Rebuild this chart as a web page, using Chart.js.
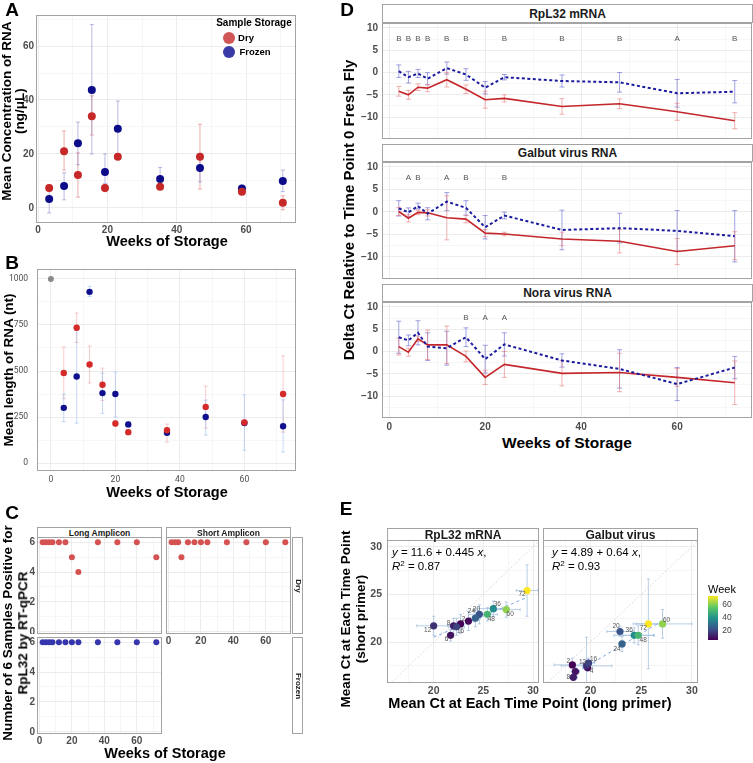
<!DOCTYPE html>
<html>
<head>
<meta charset="utf-8">
<script src="https://cdn.jsdelivr.net/npm/chart.js@4"></script>
<style>
body { margin: 0; background: #fff; }
#fig { position: relative; width: 753px; height: 763px; overflow: hidden; font-family: "Liberation Sans", Arial, sans-serif; }
.t { position: absolute; white-space: nowrap; font-weight: bold; color: #000; line-height: 1; }
.strip { position: absolute; box-sizing: border-box; border: 1px solid #a3a3a3; background: #fff; }
.dot { position: absolute; border-radius: 50%; }
</style>
</head>
<body>
<div id="fig"></div>
<script>
// ---- A: RNA concentration ----
const aWeeks = [3.2, 7.5, 11.5, 15.5, 19.3, 23, 35.2, 46.7, 58.8, 70.6];
const aDry = [7.4, 21, 12.2, 34, 7.4, 19, 7.8, 19, 6, 1.9];
const aDryLo = [6.3, 14, 4, 27, 6, 18, 6.8, 7, 5.3, -0.7];
const aDryHi = [8.5, 28.5, 20.4, 41.5, 8.6, 20, 8.8, 31, 6.8, 4.5];
const aFrozen = [3.3, 8.1, 24, 43.7, 13.3, 29.3, 10.7, 14.8, 7.2, 10];
const aFrozenLo = [-1.9, 3, 16, 20, 9, 19.6, 7, 9.6, 6, 6];
const aFrozenHi = [7.5, 13, 31.8, 68, 20, 39.6, 15, 20, 8.4, 14];

// ---- B: RNA length ----
const bWeeks = [4, 8, 12, 16, 20, 24, 36, 48, 60, 72];
const bFresh = [{ x: 0, y: 1000 }];
const bDry = [489, 735, 535, 425, 215, 168, 178, 305, 220, 375];
const bDryLo = [350, 655, 435, 340, 200, 155, 114, 190, 205, 168];
const bDryHi = [630, 815, 636, 516, 230, 180, 212, 418, 235, 582];
const bFrozen = [300, 470, 930, 380, 375, 210, 165, 250, 218, 200];
const bFrozenLo = [225, 217, 905, 270, 250, 195, 150, 152, 70, 60];
const bFrozenHi = [375, 720, 960, 489, 495, 225, 180, 342, 370, 343];

// ---- C: samples positive ----
const cWeeks = [2, 4, 6, 8, 12, 16, 20, 24, 36, 48, 60, 72];
const cLongDry = [6, 6, 6, 6, 6, 6, 5, 4, 6, 6, 6, 5];
const cLongFrozen = [6, 6, 6, 6, 6, 6, 6, 6, 6, 6, 6, 6];
const cShortDry = [6, 6, 6, 5, 6, 6, 6, 6, 6, 6, 6, 6];

// ---- D: delta Ct ----
const dWeeks = [2, 4, 6, 8, 12, 16, 20, 24, 36, 48, 60, 72];
const rplDry = [-4.2, -5.0, -3.3, -3.5, -1.6, -3.75, -6.1, -5.8, -7.6, -7.0, -8.8, -10.8];
const rplDryErr = [1.1, 1.0, 0.75, 0.8, 1.65, 0.95, 1.9, 0.8, 1.75, 1.1, 1.9, 1.8];
const rplFrozen = [0.3, -1.05, -0.2, -1.4, 1.0, -0.45, -3.4, -1.05, -1.9, -2.2, -4.65, -4.3];
const rplFrozenErr = [1.4, 1.3, 0.9, 1.35, 1.35, 1.3, 1.4, 0.6, 1.35, 2.2, 3.1, 2.5];
const galDry = [0.1, -1.4, -0.1, -0.2, -1.3, -1.6, -4.7, -4.9, -6.0, -6.5, -8.8, -7.5];
const galDryErr = [0.9, 0.8, 0.5, 0.7, 4.9, 0.8, 0.8, 0.4, 1.5, 2.6, 2.9, 3.1];
const galFrozen = [0.8, -0.1, 1.3, -0.4, 2.3, 0.9, -3.4, -0.8, -4.0, -3.6, -4.2, -5.4];
const galFrozenErr = [1.7, 1.0, 0.65, 1.35, 2.0, 1.6, 2.6, 0.75, 4.4, 3.3, 4.5, 5.7];
const noraDry = [1.1, -0.15, 2.85, 1.5, 1.5, -1.1, -5.8, -2.9, -4.9, -4.7, -5.8, -7.0];
const noraDryErr = [1.9, 0.9, 0.6, 3.3, 4.2, 1.2, 1.6, 2.9, 2.8, 4.3, 2.0, 4.9];
const noraFrozen = [3.2, 2.5, 4.2, 1.1, 0.75, 3.2, -1.7, 1.6, -2.0, -3.9, -7.3, -3.6];
const noraFrozenErr = [3.6, 1.2, 2.7, 3.1, 3.8, 2.1, 3.1, 2.6, 1.5, 4.3, 3.7, 2.5];
const rplLetterWeeks = [2, 4, 6, 8, 12, 16, 24, 36, 48, 60, 72];
const rplLetters = ['B', 'B', 'B', 'B', 'B', 'B', 'B', 'B', 'B', 'A', 'B'];
const galLetterWeeks = [4, 6, 12, 16, 24];
const galLetters = ['A', 'B', 'A', 'B', 'B'];
const noraLetterWeeks = [16, 20, 24];
const noraLetters = ['B', 'A', 'A'];
const LETTER_Y = 7.6;

// ---- E: long vs short primer ----
const eWeeks = [2, 4, 6, 8, 12, 16, 20, 24, 36, 48, 60, 72];
const eRplLong = [22.7, 23.5, 21.7, 22.0, 20.0, 22.3, 24.6, 24.2, 26.0, 25.4, 27.3, 29.4];
const eRplShort = [21.9, 22.2, 20.7, 21.7, 21.7, 21.6, 22.9, 22.5, 23.5, 22.9, 23.4, 25.4];
const eRplXErr = [0.7, 0.6, 0.3, 0.6, 1.7, 0.8, 1.1, 0.5, 1.6, 1.0, 1.4, 1.1];
const eRplYErr = [1.0, 1.0, 0.6, 0.8, 1.0, 0.9, 1.0, 0.9, 0.8, 0.7, 0.8, 2.7];
const eGalLong = [18.2, 19.7, 18.5, 18.3, 19.6, 19.8, 22.9, 23.1, 24.3, 24.7, 27.1, 25.7];
const eGalShort = [17.6, 17.3, 16.9, 16.3, 17.5, 17.8, 21.1, 19.8, 20.7, 20.7, 21.9, 21.9];
const eGalXErr = [1.8, 0.5, 0.4, 0.4, 2.5, 0.6, 1.3, 0.3, 2.0, 1.5, 2.9, 1.2];
const eGalYErr = [0.7, 0.4, 0.4, 0.3, 3.0, 0.5, 0.5, 0.8, 0.8, 1.0, 1.5, 4.7];
const eRplFit = [11.6, 0.445];
const eGalFit = [4.89, 0.64];

// label nudges for week numbers in E (pixels), null = label hidden
const rplNudge = [[3, -5], null, [-4, 4], [-5, -3], [-6, 4], [4, 4], [-3, -5], [-4, -7], [4, -4], [4, 5], [4, 5], [-5, 4]];
const galNudge = [[-4, -4], [4, 3], null, [-5, 0], [-4, -4], [5, -4], [-4, -5], [-5, 5], [-5, -5], [5, 5], [4, -4], [-5, 4]];

const FONT = '"Liberation Sans", Arial, sans-serif';
const GRID = '#ececec', GRID_MINOR = '#f6f6f6', BORDER = '#a3a3a3', TICK = '#4d4d4d';
const fig = document.getElementById('fig');

// error bars drawn from dataset.err through the chart scales
const errorBars = {
    id: 'errorBars',
    beforeDatasetsDraw(chart) {
        const { ctx, chartArea: a, scales: { x, y } } = chart;
        ctx.save();
        ctx.beginPath();
        ctx.rect(a.left, a.top, a.right - a.left, a.bottom - a.top);
        ctx.clip();
        chart.data.datasets.forEach(ds => {
            const e = ds.err;
            if (!e) return;
            ctx.strokeStyle = e.color;
            ctx.lineWidth = e.width || 1;
            const cap = e.cap || 2;
            const seg = (x1, y1, x2, y2) => { ctx.beginPath(); ctx.moveTo(x1, y1); ctx.lineTo(x2, y2); ctx.stroke(); };
            ds.data.forEach((p, i) => {
                const px = x.getPixelForValue(p.x), py = y.getPixelForValue(p.y);
                let lo = null, hi = null;
                if (e.yLo) { lo = e.yLo[i]; hi = e.yHi[i]; }
                if (e.y) { lo = p.y - e.y[i]; hi = p.y + e.y[i]; }
                if (lo !== null) {
                    const t = y.getPixelForValue(hi), b = y.getPixelForValue(lo);
                    seg(px, t, px, b);
                    seg(px - cap, t, px + cap, t);
                    seg(px - cap, b, px + cap, b);
                }
                if (e.x) {
                    const l = x.getPixelForValue(p.x - e.x[i]), r = x.getPixelForValue(p.x + e.x[i]);
                    seg(l, py, r, py);
                    seg(l, py - cap, l, py + cap);
                    seg(r, py - cap, r, py + cap);
                }
            });
        });
        ctx.restore();
    }
};

const panelBox = {
    id: 'panelBox',
    afterDatasetsDraw(chart) {
        const { ctx, chartArea: a } = chart;
        ctx.save();
        ctx.strokeStyle = BORDER;
        ctx.lineWidth = 1;
        ctx.strokeRect(a.left + 0.5, a.top + 0.5, a.right - a.left - 1, a.bottom - a.top - 1);
        ctx.restore();
    }
};

const textMarks = {
    id: 'textMarks',
    afterDatasetsDraw(chart, args, opts) {
        if (!opts.items) return;
        const { ctx, scales: { x, y } } = chart;
        ctx.save();
        ctx.font = opts.css;
        ctx.fillStyle = opts.color;
        ctx.textAlign = 'center';
        ctx.textBaseline = 'middle';
        opts.items.forEach(it => {
            ctx.fillText(it.text, x.getPixelForValue(it.x) + (it.dx || 0), y.getPixelForValue(it.y) + (it.dy || 0));
        });
        ctx.restore();
    }
};

Chart.register(errorBars, panelBox, textMarks);

function fmt(v) {
    return v < 0 ? '\u2212' + Math.abs(v) : String(v);
}

function axis(o) {
    const all = o.majors.concat(o.minors || []).sort((a, b) => a - b);
    return {
        type: 'linear',
        min: o.min,
        max: o.max,
        afterBuildTicks: s => { s.ticks = all.map(v => ({ value: v })); },
        afterFit: s => {
            if (s.isHorizontal()) s.height = o.size; else s.width = o.size;
            // no label overhang, so the plot area stays where it is asked to be
            s.paddingTop = s.paddingBottom = s.paddingLeft = s.paddingRight = 0;
        },
        ticks: {
            display: o.show !== false,
            autoSkip: false,
            maxRotation: 0,
            padding: o.pad === undefined ? 2 : o.pad,
            color: TICK,
            font: o.font || { family: FONT, size: 10, weight: 'bold' },
            callback: v => o.majors.includes(v) ? fmt(v) : ''
        },
        grid: {
            color: c => (c.tick && o.majors.includes(c.tick.value)) ? GRID : GRID_MINOR,
            drawTicks: false,
            lineWidth: 1
        },
        border: { display: false }
    };
}

function makeChart(plot, pad, scales, datasets, plugins) {
    const cv = document.createElement('canvas');
    const w = plot.r - plot.l + pad.l + pad.r;
    const h = plot.b - plot.t + pad.t + pad.b;
    cv.width = w;
    cv.height = h;
    cv.style.cssText = `position:absolute;left:${plot.l - pad.l}px;top:${plot.t - pad.t}px;width:${w}px;height:${h}px`;
    fig.appendChild(cv);
    return new Chart(cv, {
        type: 'scatter',
        data: { datasets },
        options: {
            responsive: false,
            animation: false,
            devicePixelRatio: 1,
            layout: { padding: { left: 0, top: pad.t, right: pad.r, bottom: 0 }, autoPadding: false },
            scales,
            plugins: Object.assign({ legend: { display: false }, tooltip: { enabled: false } }, plugins || {})
        }
    });
}

function txt(html, cx, cy, size, o) {
    o = o || {};
    const d = document.createElement('div');
    d.className = 't';
    d.innerHTML = html;
    d.style.left = cx + 'px';
    d.style.top = cy + 'px';
    d.style.fontSize = size + 'px';
    if (o.weight) d.style.fontWeight = o.weight;
    if (o.color) d.style.color = o.color;
    d.style.transform = `translate(-50%,-50%) rotate(${o.rot || 0}deg)`;
    fig.appendChild(d);
    return d;
}

function strip(l, t, w, h, label, size, rot) {
    const s = document.createElement('div');
    s.className = 'strip';
    s.style.cssText = `left:${l}px;top:${t}px;width:${w}px;height:${h}px`;
    fig.appendChild(s);
    txt(label, l + w / 2, t + h / 2, size, { rot: rot || 0, color: '#1a1a1a' });
}

const pts = (xs, ys) => xs.map((x, i) => ({ x, y: ys[i] }));

// ================= Panel A =================
makeChart({ l: 36, t: 15, r: 296, b: 223 }, { l: 36, t: 4, r: 2, b: 14 }, {
    x: axis({ min: -0.6, max: 74.4, majors: [0, 20, 40, 60], minors: [10, 30, 50, 70], size: 14, pad: 1 }),
    y: axis({ min: -5.6, max: 71.5, majors: [0, 20, 40, 60], minors: [10, 30, 50, 70], size: 36, pad: 2 })
}, [
    { data: pts(aWeeks, aDry), backgroundColor: '#c62828', pointRadius: 4, borderWidth: 0,
      err: { yLo: aDryLo, yHi: aDryHi, color: 'rgba(226,130,130,0.65)', cap: 2 } },
    { data: pts(aWeeks, aFrozen), backgroundColor: '#0c0c8a', pointRadius: 4, borderWidth: 0,
      err: { yLo: aFrozenLo, yHi: aFrozenHi, color: 'rgba(140,140,210,0.6)', cap: 2 } }
]);
txt('A', 12, 9, 19);
txt('Mean Concentration of RNA', 7, 111, 13.5, { rot: -90 });
txt('(ng/\u03bcL)', 20, 111, 13.5, { rot: -90 });
txt('Weeks of Storage', 167, 241, 14.5);
// legend
txt('Sample Storage', 254, 23, 10);
const lg1 = document.createElement('div');
lg1.className = 'dot';
lg1.style.cssText = 'left:223px;top:32px;width:12px;height:12px;background:#d05656';
fig.appendChild(lg1);
const lg2 = document.createElement('div');
lg2.className = 'dot';
lg2.style.cssText = 'left:223px;top:46px;width:12px;height:12px;background:#3a3aa6';
fig.appendChild(lg2);
txt('Dry', 246, 38, 9.5);
txt('Frozen', 255, 52, 9.5);

// ================= Panel B =================
const condFont = { family: 'Roboto', size: 8.5, weight: 'normal' };
makeChart({ l: 37, t: 269, r: 296, b: 471 }, { l: 37, t: 4, r: 2, b: 16 }, {
    x: axis({ min: -4.3, max: 76, majors: [0, 20, 40, 60], minors: [10, 30, 50, 70], size: 16, pad: 4, font: condFont }),
    y: axis({ min: -43, max: 1054, majors: [0, 250, 500, 750, 1000], minors: [125, 375, 625, 875], size: 37, pad: 9, font: condFont })
}, [
    { data: bFresh, backgroundColor: '#8a8a8a', pointRadius: 3, borderWidth: 0 },
    { data: pts(bWeeks, bDry), backgroundColor: '#d42a2a', pointRadius: 3.2, borderWidth: 0,
      err: { yLo: bDryLo, yHi: bDryHi, color: 'rgba(240,160,160,0.55)', cap: 2 } },
    { data: pts(bWeeks, bFrozen), backgroundColor: '#10108f', pointRadius: 3.2, borderWidth: 0,
      err: { yLo: bFrozenLo, yHi: bFrozenHi, color: 'rgba(150,185,240,0.55)', cap: 2 } }
]);
txt('B', 12, 262, 19);
txt('Mean length of RNA (nt)', 9, 370, 13.5, { rot: -90 });
txt('Weeks of Storage', 167, 492, 14.5);

// ================= Panel C =================
const cFont = { family: FONT, size: 10, weight: 'bold' };
const cx = (show) => axis({ min: -1.5, max: 75.5, majors: [0, 20, 40, 60], minors: [10, 30, 50, 70], size: show ? 12 : 0, show, pad: 1, font: cFont });
const cy = (show) => axis({ min: -0.15, max: 6.35, majors: [0, 2, 4, 6], minors: [1, 3, 5], size: show ? 8 : 0, show, pad: 2, font: cFont });
makeChart({ l: 37, t: 537, r: 162, b: 634 }, { l: 8, t: 0, r: 0, b: 0 }, { x: cx(false), y: cy(true) }, [
    { data: pts(cWeeks, cLongDry), backgroundColor: '#d45252', pointRadius: 3, borderWidth: 0 }
]);
makeChart({ l: 166, t: 537, r: 291, b: 634 }, { l: 0, t: 0, r: 0, b: 12 }, { x: cx(true), y: cy(false) }, [
    { data: pts(cWeeks, cShortDry), backgroundColor: '#d45252', pointRadius: 3, borderWidth: 0 }
]);
makeChart({ l: 37, t: 637, r: 162, b: 734 }, { l: 8, t: 0, r: 0, b: 12 }, { x: cx(true), y: cy(true) }, [
    { data: pts(cWeeks, cLongFrozen), backgroundColor: '#3535ad', pointRadius: 3, borderWidth: 0 }
]);
strip(37, 527, 125, 11, 'Long Amplicon', 8.5);
strip(166, 527, 125, 11, 'Short Amplicon', 8.5);
strip(292, 537, 11, 97, 'Dry', 8, 90);
strip(292, 637, 11, 97, 'Frozen', 8, 90);
txt('C', 12, 512, 19);
txt('Number of 6 Samples Positive for', 8, 633, 13.5, { rot: -90 });
txt('RpL32 by RT-qPCR', 23, 633, 13.5, { rot: -90 });
txt('Weeks of Storage', 165, 753, 14.5);

// ================= Panel D =================
const dFacets = [
    { name: 'RpL32 mRNA', strip: [4, 19], t: 23, b: 139, dry: rplDry, dryErr: rplDryErr, fro: rplFrozen, froErr: rplFrozenErr, lw: rplLetterWeeks, lt: rplLetters },
    { name: 'Galbut virus RNA', strip: [144, 18], t: 162, b: 279, dry: galDry, dryErr: galDryErr, fro: galFrozen, froErr: galFrozenErr, lw: galLetterWeeks, lt: galLetters },
    { name: 'Nora virus RNA', strip: [284, 18], t: 302, b: 418, dry: noraDry, dryErr: noraDryErr, fro: noraFrozen, froErr: noraFrozenErr, lw: noraLetterWeeks, lt: noraLetters, last: true }
];
dFacets.forEach(f => {
    makeChart({ l: 382, t: f.t, r: 752, b: f.b }, { l: 40, t: 0, r: 1, b: f.last ? 16 : 0 }, {
        x: axis({ min: -1.5, max: 75.6, majors: [0, 20, 40, 60], minors: [10, 30, 50, 70], size: f.last ? 16 : 0, show: !!f.last, pad: 3 }),
        y: axis({ min: -14.9, max: 11.1, majors: [-10, -5, 0, 5, 10], minors: [-12.5, -7.5, -2.5, 2.5, 7.5], size: 40, pad: 4 })
    }, [
        { data: pts(dWeeks, f.fro), showLine: true, borderColor: '#1b1b9e', borderWidth: 2, borderDash: [3, 2.5], pointRadius: 0,
          err: { y: f.froErr, color: 'rgba(100,100,205,0.6)', cap: 2.5 } },
        { data: pts(dWeeks, f.dry), showLine: true, borderColor: '#c4262b', borderWidth: 1.6, pointRadius: 0,
          err: { y: f.dryErr, color: 'rgba(232,125,125,0.6)', cap: 2.5 } }
    ], {
        textMarks: { css: `8px ${FONT}`, color: '#555', items: f.lw.map((w, i) => ({ x: w, y: LETTER_Y, text: f.lt[i] })) }
    });
    strip(382, f.strip[0], 371, f.strip[1], f.name, 12);
});
txt('D', 347, 9, 19);
txt('Delta Ct Relative to Time Point 0 Fresh Fly', 348, 210, 15, { rot: -90 });
txt('Weeks of Storage', 567, 443, 15.5);

// ================= Panel E =================
const VIR = [[68, 1, 84], [59, 82, 139], [33, 145, 140], [94, 201, 98], [253, 231, 37]];
function viridis(t) {
    t = Math.max(0, Math.min(1, t));
    const s = t * 4, i = Math.min(3, Math.floor(s)), f = s - i;
    const a = VIR[i], b = VIR[i + 1];
    return `rgb(${a.map((v, k) => Math.round(v + (b[k] - v) * f)).join(',')})`;
}
const weekColors = eWeeks.map(w => viridis((w - 2) / 70));

function eFacet(plot, pad, showY, xs, ys, xErr, yErr, fit, nudge) {
    const x0 = Math.min(...xs), x1 = Math.max(...xs);
    const eFont = { family: FONT, size: 10.5, weight: 'bold' };
    makeChart(plot, pad, {
        x: axis({ min: 15.3, max: 30.6, majors: [20, 25, 30], minors: [17.5, 22.5, 27.5], size: 14, pad: 2, font: eFont }),
        y: axis({ min: 15.7, max: 30.7, majors: [20, 25, 30], minors: [17.5, 22.5, 27.5], size: showY ? 18 : 0, show: showY, pad: 5, font: eFont })
    }, [
        { data: pts(xs, ys), backgroundColor: weekColors, pointRadius: 3.6, borderWidth: 0, order: 0,
          err: { x: xErr, y: yErr, color: 'rgba(160,190,220,0.75)', cap: 1.5 } },
        { data: [{ x: 10, y: 10 }, { x: 35, y: 35 }], showLine: true, borderColor: '#d4d4d4', borderWidth: 1, borderDash: [1.5, 2], pointRadius: 0, order: 2 },
        { data: [{ x: x0, y: fit[0] + fit[1] * x0 }, { x: x1, y: fit[0] + fit[1] * x1 }], showLine: true, borderColor: 'rgba(110,155,225,0.9)', borderWidth: 1, borderDash: [3, 3], pointRadius: 0, order: 1 }
    ], {
        textMarks: {
            css: `6.5px ${FONT}`, color: '#555',
            items: eWeeks.map((w, i) => nudge[i] ? { x: xs[i], y: ys[i], text: String(w), dx: nudge[i][0], dy: nudge[i][1] } : null).filter(Boolean)
        }
    });
}
eFacet({ l: 387, t: 540, r: 539, b: 683 }, { l: 18, t: 0, r: 0, b: 14 }, true, eRplLong, eRplShort, eRplXErr, eRplYErr, eRplFit, rplNudge);
eFacet({ l: 543, t: 540, r: 698, b: 683 }, { l: 0, t: 0, r: 0, b: 14 }, false, eGalLong, eGalShort, eGalXErr, eGalYErr, eGalFit, galNudge);
strip(387, 528, 152, 13, 'RpL32 mRNA', 12);
strip(543, 528, 155, 13, 'Galbut virus', 12);

function eqn(l, a, b, r2) {
    const d = document.createElement('div');
    d.style.cssText = `position:absolute;left:${l}px;top:546px;font-size:11.5px;line-height:12px;color:#000;white-space:nowrap;font-family:${FONT}`;
    d.innerHTML = `<i>y</i> = ${a} + ${b} <i>x</i>,<br><i>R</i><sup style="font-size:8px;vertical-align:4px">2</sup> = ${r2}`;
    fig.appendChild(d);
}
eqn(392, '11.6', '0.445', '0.87');
eqn(552, '4.89', '0.64', '0.93');

// colourbar
txt('Week', 722, 589, 11, { weight: 'normal' });
const bar = document.createElement('div');
bar.style.cssText = 'position:absolute;left:708px;top:596px;width:10px;height:44px;background:linear-gradient(to top,#440154,#3b528b 25%,#21918c 50%,#5ec962 75%,#fde725)';
fig.appendChild(bar);
[[60, 603.5], [40, 616.5], [20, 629.5]].forEach(([v, y]) => {
    txt(String(v), 727, y, 8.5, { weight: 'normal', color: '#444' });
});

txt('E', 346, 508, 19);
txt('Mean Ct at Each Time Point', 346, 619, 13.5, { rot: -90 });
txt('(short primer)', 361, 619, 13.5, { rot: -90 });
txt('Mean Ct at Each Time Point (long primer)', 530, 703, 14.5);
</script>
</body>
</html>
